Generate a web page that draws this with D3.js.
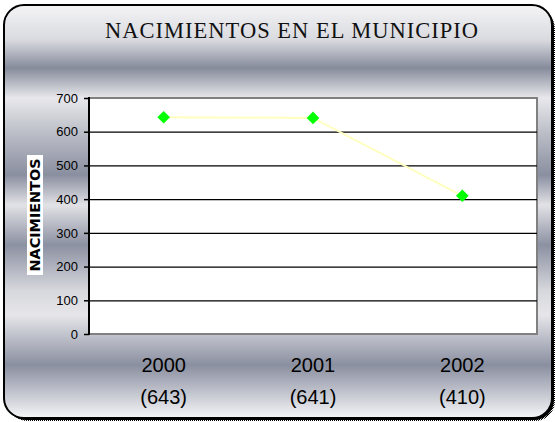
<!DOCTYPE html>
<html>
<head>
<meta charset="utf-8">
<script src="https://cdn.jsdelivr.net/npm/d3@7"></script>
<style>
  body { margin: 0; background: #fff; }
  svg { display: block; }
</style>
</head>
<body>
<div class="chart"></div>
<script>
var years = ['2000', '2001', '2002'];
var births = [643, 641, 410];
var yTicks = [0, 100, 200, 300, 400, 500, 600, 700];

var W = 555, H = 422;
var plot = { left: 89, right: 537, top: 98, bottom: 334 };

var svg = d3.select('.chart')
  .append('svg')
    .attr('width', W)
    .attr('height', H);

var defs = svg.append('defs');

// chrome-like background, banded vertically
var grad = defs.append('linearGradient')
  .attr('id', 'chrome')
  .attr('gradientUnits', 'userSpaceOnUse')
  .attr('x1', 0).attr('y1', 5).attr('x2', 0).attr('y2', 419);
[
  [5, '#f4f4f6'], [40, '#d9dadf'], [68, '#868b9b'], [98, '#e8e8ec'],
  [135, '#b9bcc5'], [175, '#8a8fa0'], [205, '#e2e2e6'], [245, '#8c91a2'],
  [290, '#d6d7dc'], [315, '#e6e6ea'], [365, '#8a8fa0'], [419, '#f8f8fa']
].forEach(function (s) {
  grad.append('stop')
    .attr('offset', (s[0] - 5) / 414)
    .attr('stop-color', s[1]);
});

// dotted shadow pattern
var pat = defs.append('pattern')
  .attr('id', 'dots')
  .attr('width', 2).attr('height', 2)
  .attr('patternUnits', 'userSpaceOnUse');
pat.append('rect').attr('width', 1).attr('height', 1).attr('fill', '#000');
pat.append('rect').attr('x', 1).attr('y', 1).attr('width', 1).attr('height', 1).attr('fill', '#000');

svg.append('rect')
  .attr('x', 8).attr('y', 9)
  .attr('width', 547).attr('height', 412)
  .attr('rx', 20)
  .attr('fill', 'url(#dots)');
svg.append('rect')
  .attr('x', 6).attr('y', 7)
  .attr('width', 548).attr('height', 413)
  .attr('rx', 20)
  .attr('fill', '#000');

svg.append('rect')
  .attr('x', 4).attr('y', 5)
  .attr('width', 548).attr('height', 413)
  .attr('rx', 20)
  .attr('fill', 'url(#chrome)')
  .attr('stroke', '#000')
  .attr('stroke-width', 2);

// title
svg.append('text')
  .attr('x', 292)
  .attr('y', 38)
  .attr('text-anchor', 'middle')
  .style('font-family', '"Liberation Serif", "Times New Roman", serif')
  .style('font-size', '22.5px')
  .style('letter-spacing', '1px')
  .attr('fill', '#111')
  .text('NACIMIENTOS EN EL MUNICIPIO');

var x = d3.scalePoint()
  .domain(years)
  .range([plot.left, plot.right])
  .padding(0.5);

var y = d3.scaleLinear()
  .domain([0, 700])
  .range([plot.bottom, plot.top]);

// plot area
svg.append('rect')
  .attr('x', plot.left)
  .attr('y', plot.top)
  .attr('width', plot.right - plot.left)
  .attr('height', plot.bottom - plot.top)
  .attr('fill', '#fff')
  .attr('stroke', '#808080')
  .attr('stroke-width', 2);

// gridlines
svg.append('g')
  .selectAll('line')
  .data(yTicks.filter(function (d) { return d > 0 && d < 700; }))
  .enter()
    .append('line')
    .attr('x1', plot.left)
    .attr('x2', plot.right)
    .attr('y1', function (d) { return y(d) + 0.5; })
    .attr('y2', function (d) { return y(d) + 0.5; })
    .attr('stroke', '#000')
    .attr('stroke-width', 1.2);

// y axis
var yAxis = svg.append('g')
  .attr('transform', 'translate(' + plot.left + ',0)')
  .call(d3.axisLeft(y).tickValues(yTicks).tickSize(5).tickPadding(6));
yAxis.select('.domain')
  .attr('stroke-width', 2)
  .attr('d', 'M0,' + (plot.top - 1) + 'V' + (plot.bottom + 1));
yAxis.selectAll('.tick line').attr('stroke-width', 1.5);
yAxis.selectAll('text')
  .style('font-family', '"Liberation Sans", Arial, sans-serif')
  .style('font-size', '13px')
  .attr('fill', '#000');

// y label on white box
var yl = svg.append('g')
  .attr('transform', 'translate(35,215) rotate(-90)');
yl.append('rect')
  .attr('x', -60).attr('y', -8)
  .attr('width', 120).attr('height', 16)
  .attr('fill', '#fff');
yl.append('text')
  .attr('text-anchor', 'middle')
  .attr('dy', '0.36em')
  .attr('textLength', 113)
  .attr('lengthAdjust', 'spacingAndGlyphs')
  .style('font-family', '"DejaVu Sans", sans-serif')
  .style('font-weight', 'bold')
  .style('font-size', '14px')
  .attr('fill', '#000')
  .text('NACIMIENTOS');

// x labels: year and value
var xl = svg.append('g')
  .selectAll('g')
  .data(years)
  .enter()
    .append('g')
    .attr('transform', function (d) { return 'translate(' + x(d) + ',0)'; });
xl.append('text')
  .attr('y', 372)
  .text(function (d) { return d; });
xl.append('text')
  .attr('y', 404)
  .text(function (d, i) { return '(' + births[i] + ')'; });
xl.selectAll('text')
  .attr('text-anchor', 'middle')
  .style('font-family', '"Liberation Sans", Arial, sans-serif')
  .style('font-size', '20px')
  .attr('fill', '#000');

// series line
svg.append('path')
  .datum(births)
  .attr('fill', 'none')
  .attr('stroke', '#ffffc0')
  .attr('stroke-width', 2)
  .attr('d', d3.line()
    .x(function (d, i) { return x(years[i]); })
    .y(function (d) { return y(d); }));

// diamond markers
svg.append('g')
  .selectAll('path')
  .data(births)
  .enter()
    .append('path')
    .attr('transform', function (d, i) {
      return 'translate(' + x(years[i]) + ',' + y(d) + ') rotate(45)';
    })
    .attr('d', d3.symbol().type(d3.symbolSquare).size(80))
    .attr('fill', '#00ff00');
</script>
</body>
</html>
